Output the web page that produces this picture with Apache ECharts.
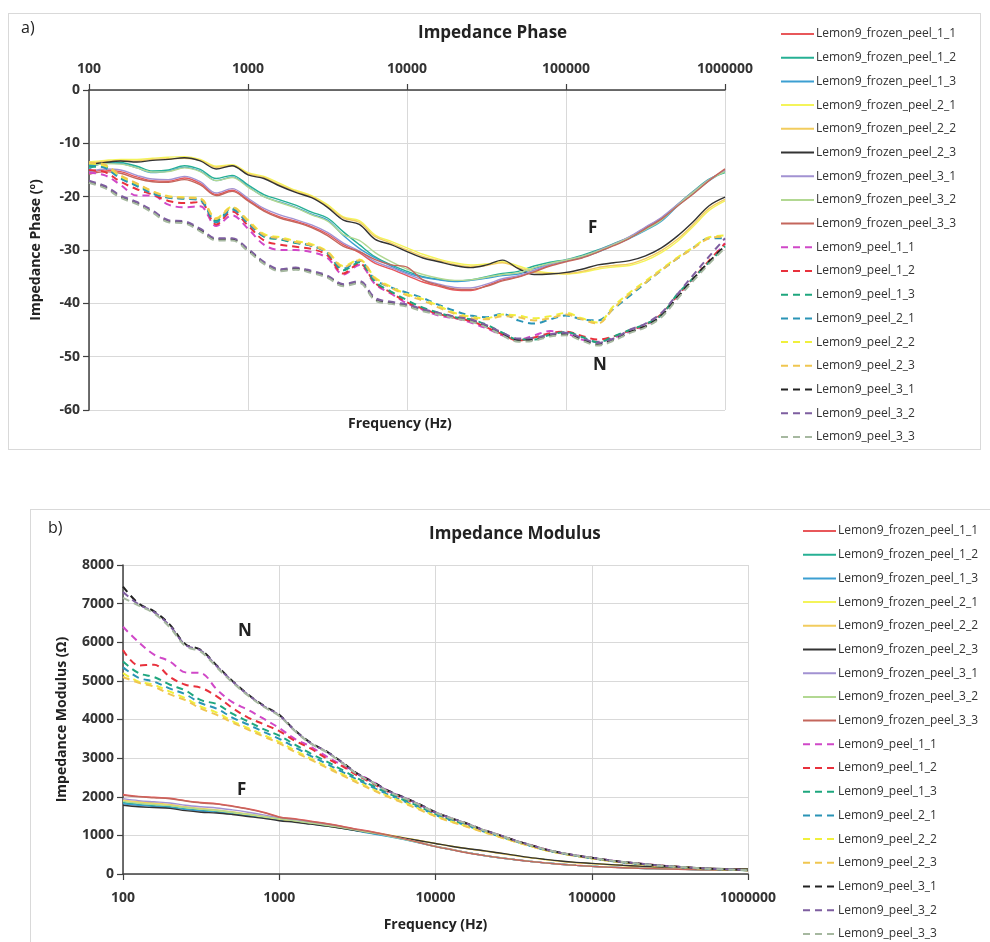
<!DOCTYPE html>
<html><head><meta charset="utf-8">
<script src="https://cdn.jsdelivr.net/npm/echarts@6/dist/echarts.min.js"></script>
<style>
html,body{margin:0;padding:0;width:990px;height:942px;overflow:hidden;background:#fff;}
#a{position:absolute;left:8px;top:13px;width:973px;height:437px;border:1px solid #d9d9d9;box-sizing:border-box;}
#b{position:absolute;left:30px;top:509px;width:990px;height:460px;border:1px solid #d9d9d9;box-sizing:border-box;}
</style></head><body>
<div id="a"></div><div id="b"></div>
<script>
// ---------- categories ----------
const freqs = [100,126,158,200,251,316,398,501,631,794,1000,1259,1585,1995,2512,3162,3981,5012,6310,7943,
  10000,12589,15849,19953,25119,31623,39811,50119,63096,79433,100000,125893,158489,199526,251189,316228,398107,501187,630957,794328,1000000];
const seriesNames = ['Lemon9_frozen_peel_1_1','Lemon9_frozen_peel_1_2','Lemon9_frozen_peel_1_3','Lemon9_frozen_peel_2_1','Lemon9_frozen_peel_2_2','Lemon9_frozen_peel_2_3','Lemon9_frozen_peel_3_1','Lemon9_frozen_peel_3_2','Lemon9_frozen_peel_3_3',
  'Lemon9_peel_1_1','Lemon9_peel_1_2','Lemon9_peel_1_3','Lemon9_peel_2_1','Lemon9_peel_2_2','Lemon9_peel_2_3','Lemon9_peel_3_1','Lemon9_peel_3_2','Lemon9_peel_3_3'];
const xTickLabels = ['100','1000','10000','100000','1000000'];

// ---------- Impedance phase (deg) ----------
const phF11 = [-15.6,-15.0,-15.3,-16.3,-17.0,-17.1,-16.5,-17.5,-19.6,-18.8,-20.6,-22.5,-23.8,-24.6,-25.6,-27.0,-29.0,-30.5,-32.5,-33.6,-34.8,-36.0,-36.8,-37.5,-37.6,-36.7,-35.6,-35.0,-34.0,-32.8,-32.0,-31.3,-30.2,-29.0,-27.6,-25.8,-24.0,-21.6,-19.3,-16.9,-15.0];
const phF12 = [-14.2,-13.5,-13.6,-14.3,-15.2,-15.0,-14.2,-14.9,-16.6,-16.0,-17.8,-19.6,-20.6,-21.6,-22.9,-24.0,-26.6,-29.0,-31.3,-32.8,-34.0,-35.0,-35.5,-35.8,-35.6,-35.0,-34.4,-34.0,-33.0,-32.3,-31.8,-31.0,-30.0,-28.8,-27.6,-26.0,-24.2,-21.5,-19.0,-16.7,-15.5];
const phF13 = [-14.8,-13.7,-13.8,-14.6,-15.5,-15.2,-14.5,-15.2,-17.0,-16.3,-18.1,-20.0,-21.0,-22.0,-23.3,-24.4,-27.3,-29.7,-31.5,-33.0,-34.3,-35.1,-35.6,-35.9,-35.7,-35.3,-34.8,-34.5,-33.5,-32.6,-32.0,-31.4,-30.4,-29.1,-27.8,-26.3,-24.6,-21.8,-19.4,-17.0,-15.2];
const phF21 = [-13.5,-13.2,-13.0,-13.0,-12.8,-12.6,-12.5,-13.0,-14.3,-14.0,-15.5,-16.2,-17.5,-18.8,-19.8,-21.5,-23.8,-24.5,-27.2,-28.4,-29.6,-30.8,-31.7,-32.4,-32.8,-32.6,-32.2,-33.0,-33.9,-34.3,-34.5,-34.2,-33.6,-33.2,-32.9,-32.0,-30.5,-28.4,-25.6,-22.6,-20.8];
const phF22 = [-13.8,-13.4,-13.2,-13.3,-13.0,-12.9,-12.8,-13.2,-14.5,-14.2,-15.7,-16.4,-17.8,-19.0,-20.0,-21.8,-24.0,-24.8,-27.5,-28.7,-30.0,-31.2,-32.0,-32.7,-33.1,-32.9,-32.4,-33.3,-34.2,-34.4,-34.4,-34.0,-33.3,-32.9,-32.6,-31.6,-30.1,-28.0,-25.2,-22.2,-20.5];
const phF23 = [-14.0,-13.6,-13.3,-13.5,-13.2,-13.0,-12.7,-13.3,-14.8,-14.2,-15.9,-16.6,-18.0,-19.2,-20.2,-22.0,-24.4,-25.2,-28.0,-29.0,-30.3,-31.5,-32.2,-32.9,-33.3,-32.8,-31.9,-33.5,-34.6,-34.5,-34.2,-33.6,-32.8,-32.4,-32.0,-31.1,-29.6,-27.4,-24.7,-21.7,-20.1];
const phF31 = [-15.4,-14.8,-15.0,-16.0,-16.7,-16.8,-16.2,-17.2,-19.3,-18.5,-20.3,-22.2,-23.4,-24.3,-25.3,-26.7,-28.7,-30.2,-32.2,-33.3,-34.5,-35.6,-36.4,-37.0,-37.1,-36.4,-35.4,-34.8,-33.8,-32.7,-31.9,-31.2,-30.1,-28.9,-27.5,-25.7,-23.9,-21.5,-19.1,-16.8,-15.1];
const phF32 = [-14.5,-13.8,-13.9,-14.6,-15.4,-15.3,-14.6,-15.3,-17.0,-16.4,-18.2,-20.0,-21.1,-22.1,-23.4,-24.6,-27.1,-28.2,-30.5,-32.2,-33.6,-34.6,-35.3,-35.7,-35.6,-35.1,-34.6,-34.3,-33.3,-32.5,-31.9,-31.2,-30.2,-29.0,-27.7,-26.2,-24.4,-21.7,-19.2,-16.9,-15.3];
const phF33 = [-15.8,-15.3,-15.6,-16.6,-17.2,-17.3,-16.8,-17.8,-19.8,-19.0,-20.8,-22.7,-24.0,-24.8,-25.8,-27.3,-29.3,-30.3,-31.8,-32.8,-33.2,-35.6,-36.6,-37.3,-37.4,-36.8,-35.8,-35.1,-34.1,-33.0,-32.2,-31.5,-30.4,-29.2,-27.8,-26.0,-24.2,-21.8,-19.5,-17.0,-14.8];
const phP11 = [-15.5,-16.0,-17.8,-19.8,-19.8,-21.5,-22.0,-21.8,-25.5,-23.5,-26.0,-29.0,-30.0,-30.0,-30.4,-31.5,-34.6,-32.8,-36.4,-38.2,-40.0,-41.2,-42.3,-42.8,-43.6,-44.7,-46.0,-46.8,-46.0,-45.2,-45.6,-46.8,-47.2,-46.5,-45.3,-44.2,-42.2,-38.8,-35.5,-32.3,-28.7];
const phP12 = [-15.0,-15.4,-17.2,-18.6,-19.6,-20.8,-21.2,-21.0,-25.2,-22.8,-25.4,-28.2,-29.0,-29.4,-29.8,-31.0,-34.4,-32.5,-36.2,-38.0,-39.8,-41.0,-42.0,-42.7,-43.3,-44.5,-45.8,-47.0,-46.4,-45.6,-45.3,-46.1,-46.8,-46.2,-45.1,-44.0,-42.0,-38.6,-35.3,-32.0,-28.8];
const phP13 = [-14.4,-14.4,-16.5,-17.8,-19.3,-20.1,-20.3,-20.5,-24.5,-22.2,-24.8,-27.5,-28.0,-28.7,-29.2,-30.6,-33.8,-32.3,-36.0,-37.8,-39.4,-40.8,-41.8,-42.6,-43.0,-44.0,-45.5,-46.8,-46.8,-45.9,-45.4,-46.3,-47.3,-46.2,-45.0,-43.9,-42.2,-38.3,-35.3,-32.3,-29.3];
const phP21 = [-14.0,-14.6,-16.6,-18.0,-19.4,-20.2,-20.4,-20.7,-24.8,-22.4,-25.0,-27.4,-27.9,-28.6,-29.2,-30.5,-33.5,-32.0,-35.6,-37.0,-38.0,-39.0,-40.3,-41.4,-42.3,-42.6,-42.0,-43.2,-43.8,-43.0,-42.3,-43.0,-43.2,-41.0,-38.6,-36.2,-33.8,-31.6,-29.6,-27.8,-27.8];
const phP22 = [-13.8,-14.2,-16.2,-17.6,-19.0,-19.9,-20.1,-20.3,-24.0,-21.9,-24.4,-27.0,-27.6,-28.3,-28.9,-30.3,-33.0,-31.8,-35.2,-36.9,-38.3,-39.2,-40.5,-41.8,-42.5,-42.8,-42.1,-42.3,-42.8,-42.4,-41.8,-42.8,-43.6,-40.5,-38.0,-35.8,-33.6,-31.4,-29.5,-27.6,-27.3];
const phP23 = [-13.6,-14.0,-16.0,-17.5,-19.0,-20.0,-20.2,-20.4,-24.2,-22.0,-24.6,-27.2,-27.8,-28.5,-29.1,-30.4,-33.2,-31.9,-35.4,-37.1,-38.5,-39.5,-40.8,-42.0,-42.8,-43.0,-42.4,-42.6,-43.2,-42.8,-42.1,-43.0,-43.8,-40.9,-38.3,-36.1,-33.8,-31.6,-29.7,-27.8,-27.5];
const phP31 = [-17.2,-18.2,-20.0,-21.2,-22.8,-24.6,-24.8,-26.3,-28.0,-28.0,-30.0,-32.4,-33.8,-33.5,-34.1,-35.0,-36.6,-36.0,-39.3,-39.9,-40.4,-41.3,-41.9,-42.6,-43.2,-44.3,-45.7,-46.9,-46.8,-46.0,-45.8,-46.8,-47.7,-46.8,-45.4,-44.3,-42.3,-38.9,-35.4,-32.2,-29.2];
const phP32 = [-17.0,-18.0,-19.8,-21.0,-22.6,-24.4,-24.6,-26.0,-27.8,-27.8,-29.8,-32.2,-33.6,-33.3,-33.9,-34.8,-36.4,-35.8,-39.0,-39.7,-40.2,-41.1,-41.8,-42.5,-43.0,-44.1,-45.5,-46.6,-46.5,-45.8,-45.5,-46.5,-47.4,-46.6,-45.0,-43.8,-41.8,-38.3,-34.7,-31.2,-27.8];
const phP33 = [-17.4,-18.4,-20.2,-21.4,-23.0,-24.8,-25.0,-26.5,-28.2,-28.2,-30.2,-32.6,-34.0,-33.7,-34.3,-35.2,-36.8,-36.2,-39.5,-40.1,-40.6,-41.5,-42.1,-42.8,-43.4,-44.5,-46.0,-47.2,-47.0,-46.2,-46.0,-47.0,-47.9,-47.0,-45.6,-44.5,-42.6,-39.2,-35.8,-32.6,-29.6];

// ---------- Impedance modulus (ohm) ----------
const mdF11 = [2060,2010,1990,1960,1900,1850,1820,1760,1690,1600,1480,1430,1370,1310,1240,1160,1090,1010,920,820,720,640,560,490,430,380,330,290,255,225,200,180,165,150,140,130,120,112,105,100,95];
const mdF12 = [1850,1800,1770,1740,1690,1650,1620,1575,1520,1470,1410,1360,1310,1250,1190,1120,1050,980,895,805,712,632,556,487,427,376,329,289,254,224,199,179,164,149,139,129,119,111,104,99,94];
const mdF13 = [1820,1780,1750,1720,1670,1630,1600,1560,1510,1460,1400,1350,1300,1240,1180,1110,1040,970,890,800,710,630,555,485,425,375,328,288,254,224,199,179,164,149,139,129,119,111,104,99,94];
const mdF21 = [1900,1850,1820,1780,1720,1680,1640,1590,1540,1480,1420,1360,1310,1250,1190,1130,1070,1005,935,865,790,720,660,605,545,485,425,375,330,295,270,245,220,200,180,165,155,145,138,132,128];
const mdF22 = [1920,1870,1840,1800,1740,1700,1660,1610,1555,1495,1430,1370,1315,1255,1195,1135,1072,1005,935,862,788,718,657,602,542,482,423,373,328,293,268,243,219,199,179,164,154,144,137,131,127];
const mdF23 = [1780,1740,1720,1700,1640,1600,1580,1540,1490,1440,1380,1340,1290,1240,1180,1120,1060,1000,930,860,790,720,660,610,550,490,430,380,335,300,275,250,225,205,185,170,160,150,142,135,130];
const mdF31 = [1950,1900,1870,1840,1780,1740,1710,1660,1600,1530,1450,1400,1340,1280,1210,1140,1070,990,905,810,715,635,555,487,427,377,329,289,254,224,199,179,164,149,139,129,119,111,104,99,94];
const mdF32 = [1880,1830,1800,1770,1720,1680,1650,1600,1550,1490,1430,1375,1320,1260,1200,1130,1060,985,900,808,713,633,556,487,427,376,329,289,254,224,199,179,164,149,139,129,119,111,104,99,94];
const mdF33 = [2040,2000,1975,1950,1890,1840,1810,1750,1680,1590,1470,1420,1360,1300,1230,1150,1080,1000,910,810,710,630,550,485,425,375,328,288,253,223,198,178,163,148,138,128,118,110,104,99,94];
const mdP11 = [6400,6000,5680,5500,5220,5200,4780,4450,4250,4020,3780,3500,3300,3050,2820,2600,2390,2150,1980,1790,1590,1440,1300,1150,1020,880,760,640,550,480,420,360,310,270,230,200,175,150,130,115,100];
const mdP12 = [5800,5400,5420,5100,4900,4820,4600,4300,4050,3880,3700,3450,3250,3000,2800,2550,2340,2120,1950,1770,1580,1430,1290,1140,1010,870,750,635,545,475,415,355,305,265,228,198,172,148,128,113,98];
const mdP13 = [5500,5200,5100,4900,4750,4500,4400,4150,3950,3750,3580,3350,3120,2920,2700,2480,2280,2080,1910,1740,1550,1400,1270,1125,1000,865,745,630,542,472,412,352,303,263,226,196,170,146,126,111,97];
const mdP21 = [5350,5080,4980,4800,4650,4420,4280,4050,3870,3680,3500,3280,3060,2860,2650,2440,2240,2050,1880,1710,1530,1385,1255,1115,990,858,740,626,540,470,410,350,302,262,225,195,170,146,126,111,97];
const mdP22 = [5200,4980,4900,4720,4550,4330,4180,3960,3780,3600,3420,3200,2990,2790,2590,2390,2190,2010,1850,1680,1500,1360,1235,1100,978,850,733,622,537,468,408,349,301,261,224,194,169,145,125,110,96];
const mdP23 = [5100,4950,4850,4650,4500,4280,4120,3920,3740,3560,3380,3160,2960,2760,2560,2360,2170,1990,1830,1660,1490,1350,1225,1092,972,846,730,620,535,466,406,348,300,260,223,193,168,144,124,109,95];
const mdP31 = [7440,7000,6800,6450,5950,5800,5400,5000,4650,4360,4120,3720,3400,3180,2900,2600,2380,2150,1980,1800,1600,1450,1310,1150,1020,880,760,640,550,480,420,360,310,270,230,200,175,150,130,115,100];
const mdP32 = [7300,6980,6780,6420,5930,5780,5380,4990,4640,4350,4110,3710,3390,3170,2890,2590,2370,2140,1975,1795,1595,1445,1305,1148,1018,878,758,640,550,480,420,360,310,270,230,200,175,150,130,115,100];
const mdP33 = [7150,6950,6750,6380,5900,5750,5350,4960,4620,4330,4090,3700,3380,3160,2880,2580,2360,2130,1965,1785,1590,1440,1300,1145,1015,875,755,638,548,478,418,358,308,268,228,198,173,148,128,113,98];

const phaseSets = [phF11,phF12,phF13,phF21,phF22,phF23,phF31,phF32,phF33,phP11,phP12,phP13,phP21,phP22,phP23,phP31,phP32,phP33];
const modulusSets = [mdF11,mdF12,mdF13,mdF21,mdF22,mdF23,mdF31,mdF32,mdF33,mdP11,mdP12,mdP13,mdP21,mdP22,mdP23,mdP31,mdP32,mdP33];

// ---------- styles ----------
const colors = ['#e8575a','#26b094','#3c9fd2','#f4f45a','#f2cc5e','#333333','#a292d2','#b2d892','#c4665c',
  '#d048c8','#e8313c','#1ea67e','#2a94b6','#f0f03c','#f0c650','#222222','#7e5ea0','#a6b8a0'];
const FONT = '"Open Sans", "Liberation Sans", sans-serif';
const AX = '#404040', GRID = '#d9d9d9';

function buildSeries(sets){
  return seriesNames.map((n,i)=>{
    const dashed = i >= 9;
    return {
      name:n, type:'line', symbol:'none', showSymbol:false, smooth:0.35,
      data: freqs.map((f,j)=>[f, sets[i][j]]),
      lineStyle:{color:colors[i], width: dashed?2:1.4, type: dashed?[7,5]:'solid'},
      itemStyle:{color:colors[i]},
      emphasis:{disabled:true}, z: 2
    };
  });
}
const fmtX = v => { const r = Math.round(v); return xTickLabels.includes(String(r)) ? String(r) : ''; };

function legendOpt(gap, top){
  return {
    data: seriesNames,
    orient:'vertical', left:766, top:top, itemWidth:33, itemHeight:14, itemGap:gap,
    itemStyle:{opacity:0, borderWidth:0},
    lineStyle:{inactiveWidth:2},
    textStyle:{fontFamily:FONT, fontSize:12, color:'#333', padding:[0,0,0,-3]}
  };
}

// ---------- chart a ----------
const ca = echarts.init(document.getElementById('a'), null, {renderer:'canvas'});
ca.setOption({
  animation:false,
  textStyle:{fontFamily:FONT},
  grid:{left:80, top:76, width:636, height:320},
  xAxis:{type:'log', logBase:10, min:100, max:1000000, position:'top',
    axisLine:{show:true, onZero:false, lineStyle:{color:AX, width:1.5}},
    axisTick:{show:true, length:6, lineStyle:{color:AX, width:1.2}},
    minorTick:{show:false},
    axisLabel:{formatter:fmtX, fontFamily:FONT, fontSize:14, fontWeight:'bold', color:'#333', margin:14},
    splitLine:{show:true, lineStyle:{color:GRID, width:1}}},
  yAxis:{type:'value', min:-60, max:0, interval:10,
    name:'Impedance Phase (º)', nameLocation:'middle', nameGap:46, nameRotate:90,
    nameTextStyle:{fontFamily:FONT, fontSize:14, fontWeight:'bold', color:'#222'},
    axisLine:{show:true, lineStyle:{color:AX, width:1.5}},
    axisTick:{show:true, length:6, lineStyle:{color:AX, width:1.2}},
    axisLabel:{fontFamily:FONT, fontSize:14, fontWeight:'bold', color:'#333', margin:9},
    splitLine:{show:true, lineStyle:{color:GRID, width:1}}},
  legend: legendOpt(11.7, 9),
  graphic:[
    {type:'text', left:12, top:6, style:{text:'a)', font:'16px '+FONT, fill:'#222'}},
    {type:'text', left:409, top:11, style:{text:'Impedance Phase', font:'bold 17px '+FONT, fill:'#222'}},
    {type:'text', left:339, top:403, style:{text:'Frequency (Hz)', font:'bold 14px '+FONT, fill:'#222'}},
    {type:'text', left:579, top:206, style:{text:'F', font:'bold 17px '+FONT, fill:'#222'}},
    {type:'text', left:584, top:343, style:{text:'N', font:'bold 17px '+FONT, fill:'#222'}}
  ],
  series: buildSeries(phaseSets)
});

// ---------- chart b ----------
const cb = echarts.init(document.getElementById('b'), null, {renderer:'canvas'});
cb.setOption({
  animation:false,
  textStyle:{fontFamily:FONT},
  grid:{left:92, top:55, width:625, height:309},
  xAxis:{type:'log', logBase:10, min:100, max:1000000, position:'bottom',
    name:'Frequency (Hz)', nameLocation:'middle', nameGap:44,
    nameTextStyle:{fontFamily:FONT, fontSize:14, fontWeight:'bold', color:'#222'},
    axisLine:{show:true, onZero:false, lineStyle:{color:AX, width:1.5}},
    axisTick:{show:true, length:6, lineStyle:{color:AX, width:1.2}},
    minorTick:{show:false},
    axisLabel:{formatter:fmtX, fontFamily:FONT, fontSize:14, fontWeight:'bold', color:'#333', margin:17},
    splitLine:{show:true, lineStyle:{color:GRID, width:1}}},
  yAxis:{type:'value', min:0, max:8000, interval:1000,
    name:'Impedance Modulus (Ω)', nameLocation:'middle', nameGap:54, nameRotate:90,
    nameTextStyle:{fontFamily:FONT, fontSize:14, fontWeight:'bold', color:'#222'},
    axisLine:{show:true, lineStyle:{color:AX, width:1.5}},
    axisTick:{show:true, length:6, lineStyle:{color:AX, width:1.2}},
    axisLabel:{formatter:v=>String(v), fontFamily:FONT, fontSize:14, fontWeight:'bold', color:'#333', margin:9},
    splitLine:{show:true, lineStyle:{color:GRID, width:1}}},
  legend: legendOpt(11.7, 10),
  graphic:[
    {type:'text', left:17, top:10, style:{text:'b)', font:'16px '+FONT, fill:'#222'}},
    {type:'text', left:398, top:16, style:{text:'Impedance Modulus', font:'bold 17px '+FONT, fill:'#222'}},
    {type:'text', left:207, top:113, style:{text:'N', font:'bold 17px '+FONT, fill:'#222'}},
    {type:'text', left:206, top:272, style:{text:'F', font:'bold 17px '+FONT, fill:'#222'}}
  ],
  series: buildSeries(modulusSets)
});
</script>
</body></html>
